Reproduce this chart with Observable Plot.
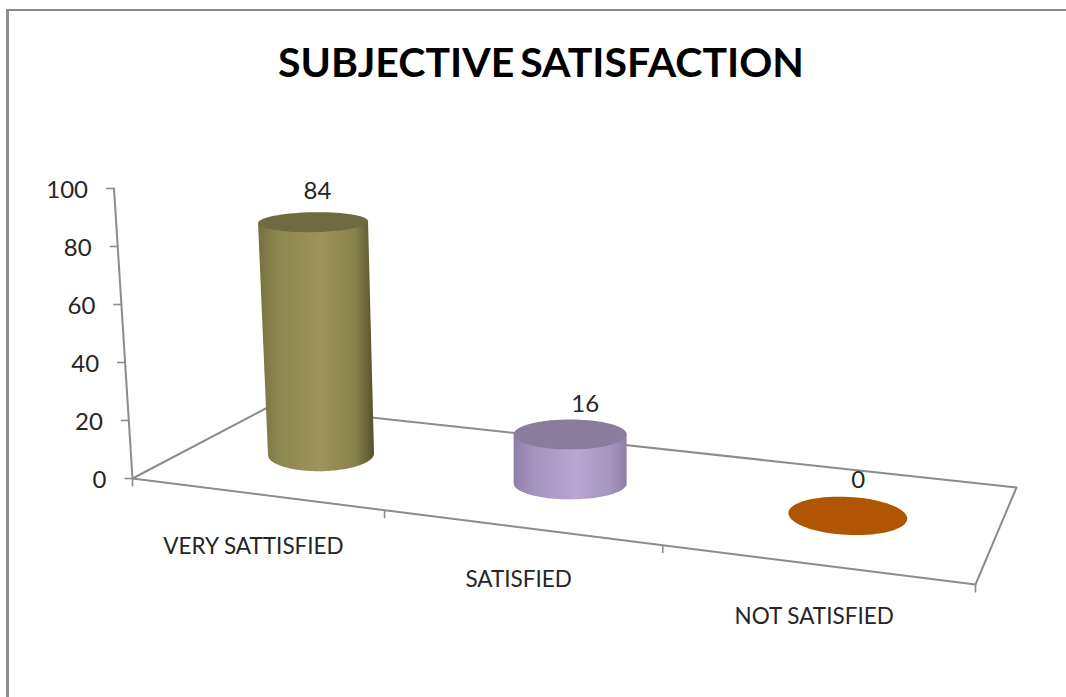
<!DOCTYPE html>
<html>
<head>
<meta charset="utf-8">
<script src="https://cdn.jsdelivr.net/npm/d3@7"></script>
<script src="https://cdn.jsdelivr.net/npm/@observablehq/plot@0.6"></script>
<style>
  html, body { margin: 0; padding: 0; background: #fff; overflow: hidden; }
  figure {
    position: absolute; left: 6px; top: 9px; margin: 0 !important;
    width: 1060px; height: 688px; box-sizing: border-box;
    border-left: 3px solid #8f8f8f; border-top: 2px solid #8a8a8a; background: #fff;
  }
  figure h2 {
    margin: 0 0 7px 0; padding: 0 0 0 269px; height: 102px;
    font: 700 41px/102px Lato, sans-serif; color: #000; word-spacing: -4px; white-space: nowrap;
  }
  figure svg { display: block; }
</style>
</head>
<body>
<script>
// Survey results
const categories = ["VERY SATTISFIED", "SATISFIED", "NOT SATISFIED"];
const satisfaction = [84, 16, 0];
const axisTicks = [0, 20, 40, 60, 80, 100];
// Where the category ticks fall along the front edge of the floor (0 to 1)
const categoryEdges = [0, 0.299, 0.629, 1];

// Page-pixel frame of the perspective drawing
const floor = {
  frontLeft: [132, 478], frontRight: [975, 584],
  backLeft: [269, 406], backRight: [1016, 487]
};
const wallTop = [113.5, 188];
const lineColor = "#8c8c8c";
const textColor = "#262626";

// Appearance of each cylinder
const looks = [
  {base: [53, 17], top: [55, 10], tilt: -1, side: ["#75713f", "#8d8850", "#9c955a", "#87824b", "#55502b"], cap: "#6f6b40", label: [4.5, -31]},
  {base: [56.5, 16], top: [56.5, 15], tilt: 0, side: ["#8e7fa8", "#a493bf", "#b9a6d2", "#a696c0", "#8f7fa8"], cap: "#8a7c9d", label: [15, -30]},
  {base: [59.5, 19], top: [59.5, 19], tilt: 3, side: ["#b05504", "#b05504", "#b05504", "#b05504", "#b05504"], cap: "#b05504", label: [10.5, -36]}
];
const shadeStops = [0, 0.18, 0.55, 0.84, 1];

// u runs along the floor, d runs from the front edge to the back edge
function onFloor(u, d) {
  const lerp = (a, b, t) => [a[0] + (b[0] - a[0]) * t, a[1] + (b[1] - a[1]) * t];
  return lerp(lerp(floor.frontLeft, floor.frontRight, u), lerp(floor.backLeft, floor.backRight, u), d);
}
// Point at height `value` above the floor position u
function lifted(u, d, value) {
  const [x, y] = onFloor(u, d);
  return [x - 2.5 + value * (-0.14 + 0.3 * u), y - value * (2.62 + 0.95 * u)];
}
function ellipse([cx, cy], [rx, ry], tiltDeg, from = 0, to = 2 * Math.PI, n = 72) {
  const a = tiltDeg * Math.PI / 180;
  return d3.range(n + 1).map((i) => {
    const t = from + (to - from) * i / n;
    return [
      cx + rx * Math.cos(t) * Math.cos(a) - ry * Math.sin(t) * Math.sin(a),
      cy + rx * Math.cos(t) * Math.sin(a) + ry * Math.sin(t) * Math.cos(a)
    ];
  });
}

const depth = 0.53;
const rows = categories.map((name, i) => {
  const u = (categoryEdges[i] + categoryEdges[i + 1]) / 2;
  const look = looks[i];
  const base = lifted(u, depth, 0);
  const top = lifted(u, depth, satisfaction[i]);
  const sideArc = ellipse(base, look.base, look.tilt, 0, Math.PI);
  const capLine = ellipse(top, look.top, look.tilt);
  const a = look.tilt * Math.PI / 180;
  const topRight = [top[0] + look.top[0] * Math.cos(a), top[1] + look.top[0] * Math.sin(a)];
  const topLeft = [top[0] - look.top[0] * Math.cos(a), top[1] - look.top[0] * Math.sin(a)];
  return {
    name, value: satisfaction[i], u, look, i, top, capLine,
    body: [topRight, ...sideArc, topLeft, topRight],
    front: onFloor(u, 0)
  };
});

const floorOutline = [
  floor.frontLeft, floor.frontRight, floor.backRight, floor.backLeft, floor.frontLeft
];
const axisPoint = (v) => {
  const t = v / 100;
  return [
    floor.frontLeft[0] + (wallTop[0] - floor.frontLeft[0]) * t,
    floor.frontLeft[1] + (wallTop[1] - floor.frontLeft[1]) * t
  ];
};

// Horizontal shading for each cylinder's side
const shading = () => {
  const defs = d3.create("svg:defs");
  looks.forEach((look, i) => {
    const g = defs.append("linearGradient").attr("id", `side-${i}`);
    look.side.forEach((c, k) =>
      g.append("stop").attr("offset", shadeStops[k]).attr("stop-color", c));
  });
  return defs.node();
};

const px = (p) => p[0];
const py = (p) => p[1];

const figure = Plot.plot({
  title: "SUBJECTIVE SATISFACTION",
  width: 1057,
  height: 577,
  margin: 0,
  x: {domain: [9, 1066], range: [0, 1057], axis: null},
  y: {domain: [120, 697], range: [0, 577], axis: null},
  style: {background: "#fff", fontFamily: "Lato, sans-serif", overflow: "visible"},
  marks: [
    shading,
    // Floor outline and value axis
    Plot.line(floorOutline, {x: px, y: py, stroke: lineColor, strokeWidth: 2}),
    Plot.line([0, 100], {x: (v) => axisPoint(v)[0], y: (v) => axisPoint(v)[1], stroke: lineColor, strokeWidth: 2}),
    Plot.link(axisTicks, {
      x1: (v) => axisPoint(v)[0] - 8, y1: (v) => axisPoint(v)[1],
      x2: (v) => axisPoint(v)[0], y2: (v) => axisPoint(v)[1],
      stroke: lineColor, strokeWidth: 1.6
    }),
    Plot.text(axisTicks, {
      x: (v) => axisPoint(v)[0] - 26, y: (v) => axisPoint(v)[1] + 2,
      text: (v) => `${v}`, textAnchor: "end", fontSize: 24, fill: textColor
    }),
    // Category ticks below the front edge
    Plot.link(categoryEdges, {
      x1: (e) => onFloor(e, 0)[0], y1: (e) => onFloor(e, 0)[1],
      x2: (e) => onFloor(e, 0)[0], y2: (e) => onFloor(e, 0)[1] + 8,
      stroke: lineColor, strokeWidth: 1.6
    }),
    // Cylinders: side first, then the cap on top of it
    ...rows.filter((r) => r.value > 0).map((r) =>
      Plot.line(r.body, {x: px, y: py, fill: `url(#side-${r.i})`, stroke: "none"})
    ),
    ...rows.map((r) =>
      Plot.line(r.capLine, {x: px, y: py, fill: r.look.cap, stroke: "none"})
    ),
    // Value labels
    Plot.text(rows, {
      x: (r) => r.top[0] + r.look.label[0], y: (r) => r.top[1] + r.look.label[1],
      text: (r) => `${r.value}`, fontSize: 24, fill: textColor
    }),
    // Category labels
    Plot.text(rows, {
      x: (r) => r.front[0], y: (r) => r.front[1], dx: -5, dy: 52,
      text: "name", fontSize: 22.5, fill: textColor
    })
  ]
});
document.body.append(figure);
</script>
</body>
</html>
